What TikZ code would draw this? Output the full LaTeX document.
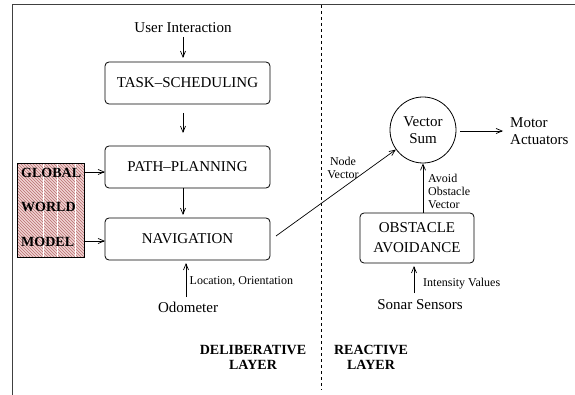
\documentclass[tikz,border=0pt]{standalone}
\usepackage{fontspec}
\setmainfont{Liberation Serif}
\usetikzlibrary{arrows.meta,patterns,calc}
\definecolor{wmfill}{RGB}{240,212,212}
\definecolor{wmhatch}{RGB}{185,110,110}
\tikzset{
  box/.style={draw,rounded corners=4pt,line width=0.8pt,minimum width=165pt,minimum height=42pt,inner sep=0pt,font=\fontsize{15}{17}\selectfont},
  lbl/.style={inner sep=0pt,font=\fontsize{15}{17}\selectfont,align=center},
  small/.style={inner sep=0pt,font=\fontsize{12}{13}\selectfont,align=left},
  bigbold/.style={inner sep=0pt,font=\fontsize{14}{15}\selectfont\bfseries,align=center},
  arr/.style={line width=0.7pt,-{Straight Barb[length=6pt,width=5pt]}},
}
\begin{document}
\begin{tikzpicture}[x=1pt,y=-1pt]
\useasboundingbox (0,0) rectangle (575,395);
% frame
\draw[line width=1pt,black!75] (12,395) -- (12,5) -- (575,5);
\draw[line width=0.8pt,dash pattern=on 3pt off 3pt] (321,5) -- (321,390);
% world model
\node[draw=none,fill=wmfill,minimum width=66pt,minimum height=93pt,inner sep=0pt] (wm) at (51,210.5) {};
\fill[pattern=north west lines,pattern color=wmhatch] (wm.south west) rectangle (wm.north east);
\foreach \xx in {43,57,75}{\draw[white,line width=0.6pt] (\xx,164.5) -- (\xx,256.5);}
\draw[line width=0.8pt] (wm.south west) rectangle (wm.north east);
\node[bigbold,anchor=west] (glob) at (21,173) {GLOBAL};
\node[bigbold,anchor=west] (world) at (21,207) {WORLD};
\node[bigbold,anchor=west] (model) at (21,242) {MODEL};
% deliberative
\node[lbl] (user) at (183,28) {User Interaction};
\node[box] (task) at (187.5,83) {TASK–SCHEDULING};
\node[box] (path) at (187.5,167) {PATH–PLANNING};
\node[box] (nav) at (187.5,239) {NAVIGATION};
\node[lbl] (odo) at (188,307) {Odometer};
\coordinate (uitop) at (183,37);
\draw[arr] (uitop) -- (183,58);
\coordinate (t1) at (183,113);
\coordinate (t2) at (183,133);
\draw[arr] (t1) -- (t2);
\coordinate (p1) at (183,188);
\coordinate (p2) at (183,215);
\draw[arr] (p1) -- (p2);
\coordinate (o1) at (186,297);
\coordinate (o2) at (186,263);
\draw[arr] (o1) -- (o2);
\node[small,anchor=west] (loc) at (189.5,281) {Location, Orientation};
\coordinate (g1) at (84,172);
\coordinate (g2) at (105,172);
\draw[arr] (g1) -- (g2);
\coordinate (m1) at (84,241);
\coordinate (m2) at (105,241);
\draw[arr] (m1) -- (m2);
% reactive
\node[draw,circle,line width=0.8pt,minimum size=66pt,inner sep=0pt,font=\fontsize{15}{17}\selectfont,align=center] (vsum) at (423,130) {Vector\\Sum};
\node[lbl,align=left,anchor=west] (motor) at (510,131) {Motor\\Actuators};
\coordinate (v1) at (460,131);
\coordinate (v2) at (503,131);
\draw[arr] (v1) -- (v2);
\coordinate (nvstart) at (276,236);
\draw[arr] (nvstart) -- (vsum);
\node[small,align=center] (nvl) at (343,168) {Node\\Vector};
\node[draw,rounded corners=4pt,line width=0.8pt,minimum width=114pt,minimum height=50pt,inner sep=0pt,font=\fontsize{15}{20}\selectfont,align=center] (obs) at (417,238) {OBSTACLE\\AVOIDANCE};
\draw[arr] (vsum.south |- obs.north) -- (vsum.south);
\node[small,anchor=north west] (aov) at (428,174) {Avoid\\Obstacle\\Vector};
\node[lbl] (sonar) at (420,305) {Sonar Sensors};
\coordinate (s1) at (414,293);
\coordinate (s2) at (414,266);
\draw[arr] (s1) -- (s2);
\node[small,anchor=west] (int) at (423,284) {Intensity Values};
\node[bigbold] (delib) at (253,357) {DELIBERATIVE\\LAYER};
\node[bigbold] (react) at (371,357) {REACTIVE\\LAYER};
\end{tikzpicture}
\end{document}
